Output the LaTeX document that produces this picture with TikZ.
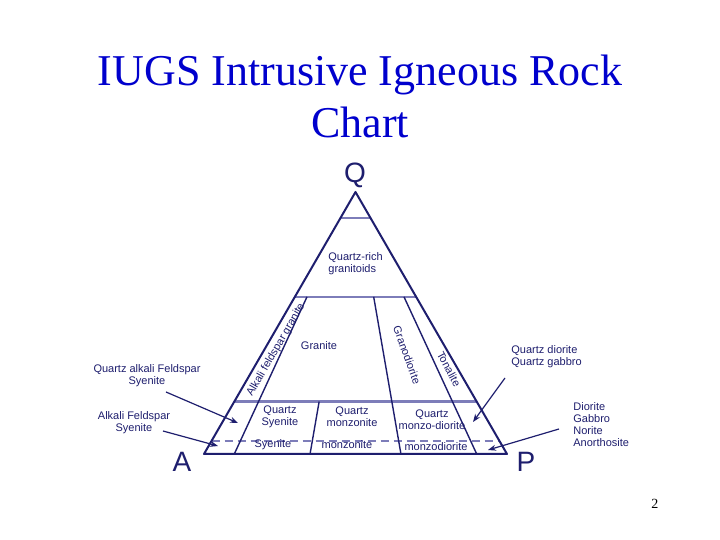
\documentclass[tikz,border=0pt]{standalone}
\usepackage{fontspec}
\setmainfont{Liberation Serif}
\setsansfont{Liberation Sans}
\usetikzlibrary{arrows.meta,calc}

\definecolor{chartnavy}{RGB}{30,30,110}
\definecolor{chartsoft}{RGB}{125,125,185}
\definecolor{titleblue}{RGB}{0,0,205}

\begin{document}
\begin{tikzpicture}[
    x=0.5pt, y=-0.5pt,
    edge/.style={draw=chartnavy, line width=1pt, line join=round},
    level/.style={draw=chartsoft, line width=1.2pt},
    divider/.style={draw=chartnavy, line width=0.7pt},
    fivepct/.style={draw=chartsoft, line width=0.7pt, dash pattern=on 4pt off 2.5pt},
    field/.style={font=\sffamily\fontsize{5.5pt}{6pt}\selectfont, text=chartnavy, inner sep=0pt, align=center},
    corner/.style={font=\sffamily\fontsize{14pt}{16pt}\selectfont, text=chartnavy, inner sep=0pt},
    pointer/.style={->, >={Stealth[length=4pt,width=3pt]}, draw=chartnavy, line width=0.6pt}
]
    \fill[white] (0,0) rectangle (720,540);
    \useasboundingbox (0,0) rectangle (720,540);

    % title
    \node[font=\fontsize{22pt}{26pt}\selectfont, text=titleblue, anchor=base] (title1) at (360,86) {IUGS Intrusive Igneous Rock};
    \node[font=\fontsize{22pt}{26pt}\selectfont, text=titleblue, anchor=base] (title2) at (360,138) {Chart};

    % corners
    \coordinate (A) at (204,454);
    \coordinate (P) at (507,454);
    \coordinate (Q) at (355.5,192);
    \node[corner] (qlabel) at (355,175) {Q};
    \node[corner] (alabel) at (182,462) {A};
    \node[corner] (plabel) at (526,462) {P};

    % quartz levels
    \draw[level] ($(A)!0.9!(Q)$) -- ($(P)!0.9!(Q)$);
    \draw[level] ($(A)!0.6!(Q)$) -- ($(P)!0.6!(Q)$);
    \draw[level] ($(A)!0.2!(Q)$) -- ($(P)!0.2!(Q)$);
    \draw[fivepct] ($(A)!0.05!(Q)$) -- ($(P)!0.05!(Q)$);

    % plagioclase ratio lines
    \foreach \r/\q in {0.1/0.6, 0.35/0.2, 0.65/0.6, 0.9/0.6}
        \draw[divider] ($(Q)!{1-\q}!($(A)!\r!(P)$)$) -- ($(A)!\r!(P)$);

    \draw[edge] (A) -- (Q) -- (P) -- cycle;

    % field names
    \node[field, anchor=west, align=left] (qrich) at (328,264) {Quartz-rich\\granitoids};
    \node[field, rotate=60] (afgranite) at (276,350) {Alkali feldspar granite};
    \node[field] (granite) at (319,346) {Granite};
    \node[field, rotate=-70] (granodiorite) at (407,355) {Granodiorite};
    \node[field, rotate=-62] (tonalite) at (449,369) {Tonalite};
    \node[field] (qsyenite) at (280,417) {Quartz\\Syenite};
    \node[field] (qmonzonite) at (352,417) {Quartz\\monzonite};
    \node[field] (qmonzodiorite) at (432,420) {Quartz\\monzo-diorite};
    \node[field] (syenite) at (273,445) {Syenite};
    \node[field] (monzonite) at (347,445) {monzonite};
    \node[field] (monzodiorite) at (436,447) {monzodiorite};

    % outside labels
    \node[field] (qafsyenite) at (147,376) {Quartz alkali Feldspar\\Syenite};
    \node[field] (afsyenite) at (134,423) {Alkali Feldspar\\Syenite};
    \node[field, anchor=west, align=left] (qdiorite) at (511,357) {Quartz diorite\\Quartz gabbro};
    \node[field, anchor=west, align=left] (diorite) at (573,425) {Diorite\\Gabbro\\Norite\\Anorthosite};

    \coordinate (qafstart) at (166,392);
    \coordinate (qafend) at (238,423);
    \coordinate (afstart) at (163,431);
    \coordinate (afend) at (218,446);
    \coordinate (qdstart) at (505,378);
    \coordinate (qdend) at (473,422);
    \coordinate (dstart) at (559,429);
    \coordinate (dend) at (488,450);
    \draw[pointer] (qafstart) -- (qafend);
    \draw[pointer] (afstart) -- (afend);
    \draw[pointer] (qdstart) -- (qdend);
    \draw[pointer] (dstart) -- (dend);

    % page number
    \node[font=\fontsize{7pt}{8pt}\selectfont, inner sep=0pt] (pagenum) at (655,504) {2};
\end{tikzpicture}
\end{document}
